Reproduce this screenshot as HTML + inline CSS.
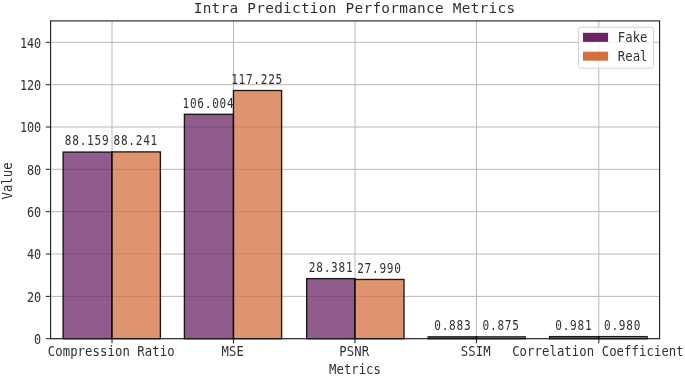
<!DOCTYPE html>
<html lang="en"><head><meta charset="utf-8"><title>Intra Prediction Performance Metrics</title>
<style>html,body{margin:0;padding:0;background:#fff}body{width:685px;height:376px;overflow:hidden}svg{display:block}text{font-family:"DejaVu Sans Mono","Liberation Mono",monospace;fill:#303030}</style></head><body>
<svg width="685" height="376" viewBox="0 0 685 376">
<rect x="0" y="0" width="685" height="376" fill="#ffffff"/>
<g stroke="#b8b8b8" stroke-width="1" fill="none">
<line x1="112.00" y1="20.9" x2="112.00" y2="338.7"/>
<line x1="233.45" y1="20.9" x2="233.45" y2="338.7"/>
<line x1="355.00" y1="20.9" x2="355.00" y2="338.7"/>
<line x1="476.45" y1="20.9" x2="476.45" y2="338.7"/>
<line x1="598.80" y1="20.9" x2="598.80" y2="338.7"/>
<line x1="50.6" y1="338.70" x2="659.6" y2="338.70"/>
<line x1="50.6" y1="296.36" x2="659.6" y2="296.36"/>
<line x1="50.6" y1="254.02" x2="659.6" y2="254.02"/>
<line x1="50.6" y1="211.68" x2="659.6" y2="211.68"/>
<line x1="50.6" y1="169.34" x2="659.6" y2="169.34"/>
<line x1="50.6" y1="127.00" x2="659.6" y2="127.00"/>
<line x1="50.6" y1="84.66" x2="659.6" y2="84.66"/>
<line x1="50.6" y1="42.32" x2="659.6" y2="42.32"/>
</g>
<g stroke="#000" stroke-width="1.35" stroke-opacity="0.88">
<rect x="63.10" y="152.07" width="48.90" height="186.63" fill="#6b2565" fill-opacity="0.75"/>
<rect x="112.00" y="151.89" width="48.40" height="186.81" fill="#d3703e" fill-opacity="0.75"/>
<rect x="184.40" y="114.29" width="49.05" height="224.41" fill="#6b2565" fill-opacity="0.75"/>
<rect x="233.45" y="90.53" width="48.15" height="248.17" fill="#d3703e" fill-opacity="0.75"/>
<rect x="306.65" y="278.62" width="48.35" height="60.08" fill="#6b2565" fill-opacity="0.75"/>
<rect x="355.00" y="279.45" width="49.00" height="59.25" fill="#d3703e" fill-opacity="0.75"/>
<rect x="428.20" y="336.83" width="48.25" height="1.87" fill="#6b2565" fill-opacity="0.75"/>
<rect x="476.45" y="336.85" width="48.85" height="1.85" fill="#d3703e" fill-opacity="0.75"/>
<rect x="549.60" y="336.62" width="49.20" height="2.08" fill="#6b2565" fill-opacity="0.75"/>
<rect x="598.80" y="336.63" width="48.30" height="2.07" fill="#d3703e" fill-opacity="0.75"/>
</g>
<rect x="50.6" y="20.9" width="609.00" height="317.80" fill="none" stroke="#1a1a1a" stroke-width="1.1"/>
<g stroke="#1a1a1a" stroke-width="1">
<line x1="112.00" y1="338.7" x2="112.00" y2="343.3"/>
<line x1="233.45" y1="338.7" x2="233.45" y2="343.3"/>
<line x1="355.00" y1="338.7" x2="355.00" y2="343.3"/>
<line x1="476.45" y1="338.7" x2="476.45" y2="343.3"/>
<line x1="598.80" y1="338.7" x2="598.80" y2="343.3"/>
<line x1="45.800000000000004" y1="338.70" x2="50.6" y2="338.70"/>
<line x1="45.800000000000004" y1="296.36" x2="50.6" y2="296.36"/>
<line x1="45.800000000000004" y1="254.02" x2="50.6" y2="254.02"/>
<line x1="45.800000000000004" y1="211.68" x2="50.6" y2="211.68"/>
<line x1="45.800000000000004" y1="169.34" x2="50.6" y2="169.34"/>
<line x1="45.800000000000004" y1="127.00" x2="50.6" y2="127.00"/>
<line x1="45.800000000000004" y1="84.66" x2="50.6" y2="84.66"/>
<line x1="45.800000000000004" y1="42.32" x2="50.6" y2="42.32"/>
</g>
<text x="-7.92" y="0" transform="translate(41.20,343.90) scale(0.9,1)" font-size="13.2" letter-spacing="-0.058">0</text>
<text x="-15.81" y="0" transform="translate(41.20,301.56) scale(0.9,1)" font-size="13.2" letter-spacing="-0.058">20</text>
<text x="-15.81" y="0" transform="translate(41.20,259.22) scale(0.9,1)" font-size="13.2" letter-spacing="-0.058">40</text>
<text x="-15.81" y="0" transform="translate(41.20,216.88) scale(0.9,1)" font-size="13.2" letter-spacing="-0.058">60</text>
<text x="-15.81" y="0" transform="translate(41.20,174.54) scale(0.9,1)" font-size="13.2" letter-spacing="-0.058">80</text>
<text x="-23.70" y="0" transform="translate(41.20,132.20) scale(0.9,1)" font-size="13.2" letter-spacing="-0.058">100</text>
<text x="-23.70" y="0" transform="translate(41.20,89.86) scale(0.9,1)" font-size="13.2" letter-spacing="-0.058">120</text>
<text x="-23.70" y="0" transform="translate(41.20,47.52) scale(0.9,1)" font-size="13.2" letter-spacing="-0.058">140</text>
<text x="-68.23" y="0" transform="translate(111.20,356.20) scale(0.93,1)" font-size="13.2" letter-spacing="0.085">Compression Ratio</text>
<text x="-12.01" y="0" transform="translate(232.65,356.20) scale(0.93,1)" font-size="13.2" letter-spacing="0.085">MSE</text>
<text x="-16.02" y="0" transform="translate(354.20,356.20) scale(0.93,1)" font-size="13.2" letter-spacing="0.085">PSNR</text>
<text x="-16.02" y="0" transform="translate(475.65,356.20) scale(0.93,1)" font-size="13.2" letter-spacing="0.085">SSIM</text>
<text x="-92.33" y="0" transform="translate(598.00,356.20) scale(0.93,1)" font-size="13.2" letter-spacing="0.085">Correlation Coefficient</text>
<text x="-26.06" y="0" transform="translate(86.75,145.37) scale(0.84,1)" font-size="13.2" letter-spacing="0.886">88.159</text>
<text x="-26.06" y="0" transform="translate(135.40,145.19) scale(0.84,1)" font-size="13.2" letter-spacing="0.886">88.241</text>
<text x="-30.47" y="0" transform="translate(208.12,107.59) scale(0.84,1)" font-size="13.2" letter-spacing="0.886">106.004</text>
<text x="-30.47" y="0" transform="translate(256.72,83.83) scale(0.84,1)" font-size="13.2" letter-spacing="0.886">117.225</text>
<text x="-26.06" y="0" transform="translate(330.72,271.92) scale(0.84,1)" font-size="13.2" letter-spacing="0.886">28.381</text>
<text x="-26.06" y="0" transform="translate(379.10,272.75) scale(0.84,1)" font-size="13.2" letter-spacing="0.886">27.990</text>
<text x="-21.64" y="0" transform="translate(452.42,330.13) scale(0.84,1)" font-size="13.2" letter-spacing="0.886">0.883</text>
<text x="-21.64" y="0" transform="translate(500.77,330.15) scale(0.84,1)" font-size="13.2" letter-spacing="0.886">0.875</text>
<text x="-21.64" y="0" transform="translate(573.40,329.92) scale(0.84,1)" font-size="13.2" letter-spacing="0.886">0.981</text>
<text x="-21.64" y="0" transform="translate(622.15,329.93) scale(0.84,1)" font-size="13.2" letter-spacing="0.886">0.980</text>
<text x="-27.91" y="0" transform="translate(355.00,374.00) scale(0.93,1)" font-size="13.2" letter-spacing="0.031">Metrics</text>
<text x="-19.93" y="0" transform="translate(11.80,181.00) rotate(-90) scale(0.93,1)" font-size="13.2" letter-spacing="0.031">Value</text>
<text x="-160.78" y="0" transform="translate(354.50,13.40) scale(1.0,1)" font-size="14.4" letter-spacing="0.270">Intra Prediction Performance Metrics</text>
<rect x="578.5" y="27.2" width="75.0" height="41.0" rx="2.5" ry="2.5" fill="#ffffff" fill-opacity="0.8" stroke="#cccccc" stroke-opacity="0.9" stroke-width="1"/>
<rect x="583" y="32.8" width="25.1" height="9.1" fill="#6b2565"/>
<rect x="583" y="51.7" width="25.1" height="9.0" fill="#d3703e"/>
<text x="0.02" y="0" transform="translate(617.80,42.00) scale(0.93,1)" font-size="13.2" letter-spacing="0.031">Fake</text>
<text x="0.02" y="0" transform="translate(617.80,60.80) scale(0.93,1)" font-size="13.2" letter-spacing="0.031">Real</text>
</svg></body></html>
